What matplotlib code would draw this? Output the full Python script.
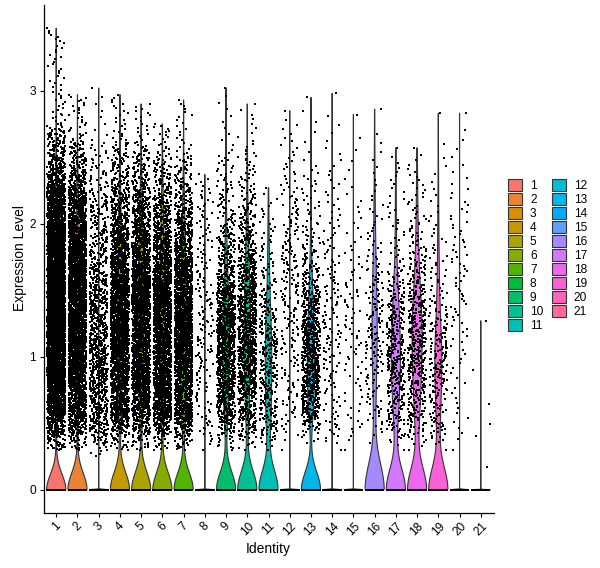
import numpy as np
import matplotlib
matplotlib.use("Agg")
import matplotlib.pyplot as plt
from matplotlib.patches import Patch

plt.rcParams['font.family'] = ['Liberation Sans', 'DejaVu Sans']

# Identity classes
identities = [str(i) for i in range(1, 22)]

# cells with zero expression / with non-zero expression, per identity
n_zero = [4500, 3000, 3400, 2000, 1800, 1700, 1550, 1500, 1000, 950, 350,
          1000, 700, 800, 700, 250, 300, 320, 250, 400, 200]
n_expr = [5500, 3500, 1000, 2600, 2600, 2400, 2400, 170, 1300, 1200, 380,
          220, 850, 160, 90, 180, 400, 500, 240, 85, 6]

# quantiles of the non-zero expression values at these probabilities
q_probs = [0, 0.01, 0.1, 0.25, 0.5, 0.75, 0.9, 0.99, 1]
q_vals = [
    [0.30, 0.42, 0.70, 1.00, 1.40, 1.80, 2.15, 2.70, 3.47],
    [0.30, 0.42, 0.70, 1.00, 1.40, 1.78, 2.10, 2.60, 2.97],
    [0.25, 0.35, 0.55, 0.80, 1.15, 1.60, 2.05, 2.60, 3.02],
    [0.30, 0.42, 0.65, 0.95, 1.30, 1.70, 2.05, 2.60, 2.97],
    [0.30, 0.42, 0.68, 0.95, 1.35, 1.70, 2.05, 2.55, 2.90],
    [0.30, 0.42, 0.65, 0.90, 1.30, 1.65, 2.00, 2.50, 2.75],
    [0.30, 0.40, 0.62, 0.90, 1.25, 1.60, 1.95, 2.50, 2.93],
    [0.30, 0.35, 0.55, 0.90, 1.30, 1.75, 2.10, 2.33, 2.37],
    [0.30, 0.40, 0.62, 0.85, 1.15, 1.45, 1.80, 2.50, 3.02],
    [0.30, 0.40, 0.65, 0.90, 1.20, 1.55, 1.90, 2.55, 2.90],
    [0.30, 0.36, 0.50, 0.70, 1.00, 1.30, 1.65, 2.15, 2.27],
    [0.30, 0.40, 0.70, 1.10, 1.55, 1.95, 2.30, 2.75, 2.85],
    [0.35, 0.45, 0.62, 0.80, 1.05, 1.35, 1.65, 2.40, 2.95],
    [0.30, 0.35, 0.55, 0.90, 1.30, 1.75, 2.20, 2.80, 2.98],
    [0.30, 0.35, 0.55, 0.90, 1.30, 1.70, 2.15, 2.70, 2.82],
    [0.35, 0.42, 0.65, 0.95, 1.25, 1.60, 2.00, 2.65, 2.86],
    [0.30, 0.38, 0.58, 0.80, 1.05, 1.35, 1.65, 2.40, 2.57],
    [0.30, 0.38, 0.60, 0.85, 1.15, 1.45, 1.80, 2.40, 2.57],
    [0.30, 0.36, 0.52, 0.75, 1.00, 1.30, 1.75, 2.50, 2.83],
    [0.30, 0.35, 0.65, 1.10, 1.55, 1.95, 2.30, 2.75, 2.83],
    [0.17, 0.17, 0.25, 0.40, 0.55, 0.90, 1.15, 1.26, 1.27],
]


# ggplot2 default hue palette (hcl, c=100, l=65)
def hcl_hex(h, c=100.0, l=65.0):
    wy, wu, wv = 100.0, 0.1978398, 0.4683363
    hr = np.deg2rad(h)
    U, V = c * np.cos(hr), c * np.sin(hr)
    Y = wy * ((l + 16) / 116) ** 3
    u = U / (13 * l) + wu
    v = V / (13 * l) + wv
    X = 9.0 * Y * u / (4 * v)
    Z = -X / 3 - 5 * Y + 3 * Y / v
    rgb = [(3.240479 * X - 1.537150 * Y - 0.498535 * Z) / wy,
           (-0.969256 * X + 1.875992 * Y + 0.041556 * Z) / wy,
           (0.055648 * X - 0.204043 * Y + 1.057311 * Z) / wy]
    out = []
    for t in rgb:
        t = 1.055 * t ** (1 / 2.4) - 0.055 if t > 0.00304 else 12.92 * t
        t = min(max(t, 0.0), 1.0)
        out.append(int(255 * t + 0.5))
    return '#%02X%02X%02X' % tuple(out)


hues = np.linspace(15, 375, len(identities) + 1)[:-1]
colors = [hcl_hex(h) for h in hues]


def pchip(xk, yk, x):
    # monotone cubic interpolation of the quantile function
    xk, yk = np.asarray(xk, float), np.asarray(yk, float)
    h = np.diff(xk)
    dl = np.diff(yk) / h
    d = np.zeros_like(xk)
    d[0], d[-1] = dl[0], dl[-1]
    for k in range(1, len(xk) - 1):
        if dl[k - 1] * dl[k] > 0:
            w1 = 2 * h[k] + h[k - 1]
            w2 = h[k] + 2 * h[k - 1]
            d[k] = (w1 + w2) / (w1 / dl[k - 1] + w2 / dl[k])
    i = np.clip(np.searchsorted(xk, x, side='right') - 1, 0, len(xk) - 2)
    t = (x - xk[i]) / h[i]
    h00 = 2 * t ** 3 - 3 * t ** 2 + 1
    h10 = t ** 3 - 2 * t ** 2 + t
    h01 = -2 * t ** 3 + 3 * t ** 2
    h11 = t ** 3 - t ** 2
    return h00 * yk[i] + h10 * h[i] * d[i] + h01 * yk[i + 1] + h11 * h[i] * d[i + 1]


def bw_nrd0(x):
    hi = np.std(x, ddof=1)
    q75, q25 = np.percentile(x, [75, 25])
    lo = min(hi, (q75 - q25) / 1.34)
    if lo == 0:
        lo = 1e-5  # Seurat jitters zeros with tiny noise
    return 0.9 * lo * len(x) ** -0.2


def jitter(k, width=0.42):
    # integer hash -> horizontal jitter in [-width, width]
    h = (np.asarray(k, dtype=np.uint64) * np.uint64(2654435761)) % np.uint64(2 ** 32)
    h ^= h >> np.uint64(16)
    h = (h * np.uint64(0x45d9f3b)) % np.uint64(2 ** 32)
    h ^= h >> np.uint64(16)
    return (h.astype(float) / 2 ** 32 - 0.5) * 2 * width


fig = plt.figure(figsize=(6, 5.68), dpi=100)
ax = fig.add_axes([43.5 / 600, 55.3 / 568, 450 / 600, 507.7 / 568])

offset = 1
ymax = max(q[-1] for q in q_vals)
for i, lab in enumerate(identities):
    c = i + 1
    n = n_expr[i]
    p = (np.arange(n) + 0.5) / n
    p[0], p[-1] = 0.0, 1.0
    vals = pchip(q_probs, q_vals[i], p)
    data = np.concatenate([np.zeros(n_zero[i]), vals])
    jx = jitter(np.arange(len(data)) + offset)

    bw = bw_nrd0(data)
    grid = np.linspace(data.min(), data.max(), 512)
    dens = np.zeros_like(grid)
    for chunk in np.array_split(data, max(1, len(data) // 2000)):
        dens += np.exp(-0.5 * ((grid[:, None] - chunk[None, :]) / bw) ** 2).sum(axis=1)
    hw = 0.45 * dens / dens.max()
    ax.fill(np.concatenate([c - hw, (c + hw)[::-1]]),
            np.concatenate([grid, grid[::-1]]),
            facecolor=colors[i], edgecolor='#333333', linewidth=0.8, zorder=2)

    ax.scatter(c + jx, data, s=2.8, marker='s', c='black', linewidths=0, zorder=3)
    offset += len(data)

pad = 0.05 * ymax
ax.set_xlim(0.4, len(identities) + 0.6)
ax.set_ylim(-pad, ymax + pad)
ax.set_xticks(range(1, len(identities) + 1))
ax.set_xticklabels(identities, rotation=45, ha='center', va='top')
ax.set_yticks([0, 1, 2, 3])
ax.tick_params(axis='both', direction='out', length=3, width=0.8, labelsize=8.6,
               colors='black', pad=2.5)
for s in ['top', 'right']:
    ax.spines[s].set_visible(False)
for s in ['left', 'bottom']:
    ax.spines[s].set_linewidth(0.9)

fig.text(268.5 / 600, 1 - 549 / 568, 'Identity', ha='center', va='center', fontsize=10)
fig.text(20 / 600, 1 - 258 / 568, 'Expression Level', ha='center', va='center',
         rotation=90, fontsize=10)

handles = [Patch(facecolor=col, edgecolor='#333333', linewidth=0.8) for col in colors]
fig.legend(handles, identities, loc='upper left', bbox_to_anchor=(508 / 600, 1 - 179 / 568),
           ncol=2, frameon=False, fontsize=8.6, handlelength=1.17, handleheight=1.17,
           labelspacing=0.08, handletextpad=0.67, columnspacing=0.72, borderpad=0,
           borderaxespad=0)

fig.savefig('out.png', dpi=100)
